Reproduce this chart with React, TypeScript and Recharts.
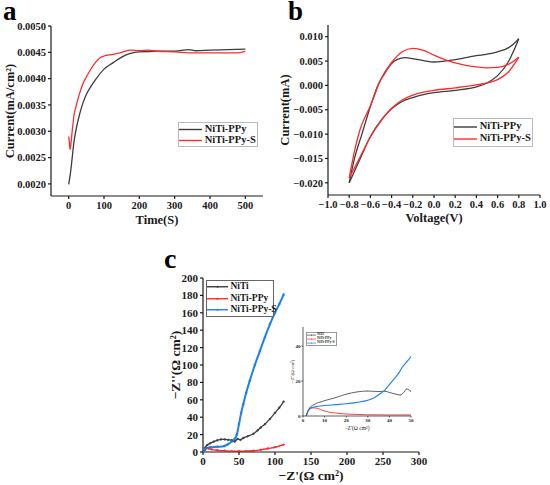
import { Legend, Line, LineChart, XAxis, YAxis } from "recharts";

const FONT = "'Liberation Serif', 'Times New Roman', serif";
const INK = "#1a1a1a";
const GREY = "#3c3c3c";
const RED = "#ff2b2b";
const BLUE = "#1f80ec";

// panel a: current vs time
const timePPy = [0, 5, 10, 15, 20, 30, 40, 50, 60, 75, 100, 125, 150, 175, 200, 250, 300, 340, 360, 400, 450, 500];
const currentPPy = [
  0.00199, 0.0022, 0.0025, 0.0028, 0.003, 0.0033, 0.00353, 0.0037, 0.00382, 0.00397, 0.00418,
  0.0043, 0.00441, 0.00448, 0.00451, 0.00452, 0.00452, 0.00455, 0.00453, 0.00454, 0.00455, 0.00456,
];
const timePPyS = [0, 2, 4, 7, 10, 15, 20, 30, 40, 50, 60, 75, 90, 100, 125, 150, 175, 200, 225, 250, 300, 350, 400, 450, 475, 500];
const currentPPyS = [
  0.0029, 0.0028, 0.00265, 0.0028, 0.003, 0.0033, 0.00345, 0.0037, 0.0039, 0.00403, 0.00415,
  0.0043, 0.0044, 0.00443, 0.00446, 0.0045, 0.00454, 0.00453, 0.00454, 0.00452, 0.00451, 0.00449,
  0.00449, 0.00449, 0.00449, 0.00452,
];
const timeTicks = [0, 100, 200, 300, 400, 500];
const currentTicks = [0.002, 0.0025, 0.003, 0.0035, 0.004, 0.0045, 0.005];

// panel b: cyclic voltammetry, forward (upper) and return (lower) branches
const vPPyUp = [-0.8, -0.75, -0.68, -0.61, -0.53, -0.45, -0.4, -0.35, -0.27, -0.2, -0.1, 0, 0.1, 0.2, 0.3, 0.4, 0.5, 0.6, 0.7, 0.75, 0.8];
const iPPyUp = [
  -0.02, -0.015, -0.01, -0.005, 0, 0.003, 0.0045, 0.0053, 0.0057, 0.0055, 0.0051, 0.0048, 0.005,
  0.0053, 0.0057, 0.0061, 0.0064, 0.0069, 0.0077, 0.0085, 0.0096,
];
const vPPyDown = [-0.8, -0.7, -0.6, -0.5, -0.4, -0.3, -0.2, -0.1, 0, 0.2, 0.4, 0.5, 0.6, 0.7, 0.75, 0.8];
const iPPyDown = [
  -0.02, -0.0152, -0.0105, -0.0072, -0.0048, -0.0033, -0.0025, -0.0019, -0.0015, -0.001, -0.0003,
  0.0005, 0.002, 0.0048, 0.007, 0.0096,
];
const vPPySUp = [-0.8, -0.75, -0.7, -0.6, -0.5, -0.4, -0.3, -0.2, -0.1, 0, 0.1, 0.2, 0.3, 0.4, 0.5, 0.6, 0.7, 0.8];
const iPPySUp = [
  -0.019, -0.0135, -0.0092, -0.0042, 0.0013, 0.0047, 0.0069, 0.0076, 0.0072, 0.0062, 0.0053,
  0.0046, 0.0041, 0.0038, 0.0036, 0.0037, 0.0043, 0.0058,
];
const vPPySDown = [-0.8, -0.7, -0.6, -0.5, -0.4, -0.3, -0.2, -0.1, 0, 0.2, 0.4, 0.5, 0.6, 0.7, 0.8];
const iPPySDown = [
  -0.019, -0.0148, -0.0106, -0.0073, -0.0047, -0.003, -0.002, -0.0014, -0.001, -0.0005, 0.0001,
  0.0005, 0.0012, 0.0027, 0.0058,
];
const voltTicks = [-1, -0.8, -0.6, -0.4, -0.2, 0, 0.2, 0.4, 0.6, 0.8, 1];
const cvTicks = [-0.02, -0.015, -0.01, -0.005, 0, 0.005, 0.01];

// panel c: Nyquist plot
const zReNiTi = [1, 3, 6, 10, 15, 20, 25, 30, 35, 40, 44, 48, 52, 56, 62, 70, 76, 80, 86, 93, 100, 106, 112];
const zImNiTi = [0, 5, 8, 10, 12, 13.5, 14.5, 14.5, 14, 13.5, 12, 15, 14, 16, 18, 21, 25, 28, 32, 38, 45, 51, 58];
const zRePPy = [1, 3, 5, 8, 12, 20, 30, 40, 50, 60, 70, 80, 90, 100, 112];
const zImPPy = [0, 3, 4.5, 4, 3, 2, 1.5, 1, 1, 1, 1.5, 2.5, 4, 5.5, 8.5];
const zRePPyS = [1, 3, 5, 10, 20, 30, 35, 40, 44, 47, 50, 53, 56, 60, 65, 72, 79, 86, 93, 100, 106, 112];
const zImPPyS = [0, 3, 4.5, 5.5, 6, 7, 9, 12, 15, 20, 32, 45, 55, 68, 82, 100, 116, 132, 147, 160, 170, 181];
const zReTicks = [0, 50, 100, 150, 200, 250, 300];
const zImTicks = [0, 20, 40, 60, 80, 100, 120, 140, 160, 180, 200];

// inset of panel c (low-frequency zoom)
const insetReNiTi = [1.5, 2, 3, 5, 8, 10, 15, 20, 25, 30, 35, 38, 40, 43, 45, 47, 48, 50];
const insetImNiTi = [0, 2, 4.5, 6.5, 8, 8.8, 10.5, 12.5, 13.8, 14.3, 14, 14.2, 13.5, 12.5, 12, 14, 15.5, 14];
const insetRePPy = [1.5, 2.5, 4, 6, 8, 10, 12, 15, 20, 25, 30, 40, 50];
const insetImPPy = [0, 3.3, 4.6, 4.6, 3.8, 2.9, 2.2, 1.7, 1.1, 0.9, 0.7, 0.6, 0.6];
const insetRePPyS = [1.5, 2.5, 4, 7, 10, 15, 20, 25, 30, 33, 36, 38, 40, 42, 44, 46, 48, 50];
const insetImPPyS = [0, 3, 4.8, 5.6, 6, 6.5, 7, 7.8, 9, 10.5, 13, 15, 18, 21, 24, 28, 31, 34];
const insetReTicks = [0, 10, 20, 30, 40, 50];
const insetImTicks = [0, 20, 40];

const zip = (xs: number[], ys: number[]) => xs.map((x, i) => ({ x, y: ys[i] }));
const withMinus = (s: string) => s.replace("-", "\u2212");

const axisLine = { stroke: INK, strokeWidth: 1.2 };
const tickStyle = (size: number) => ({ fontSize: size, fontFamily: FONT, fontWeight: 700, fill: INK });
const titleStyle = (size: number) => ({ fontSize: size, fontFamily: FONT, fontWeight: 700, fill: INK, textAnchor: "middle" as const });

type Entry = { value?: string; color?: string; type?: string };

function BoxLegend({
  payload,
  fontSize,
  sample,
  rowHeight,
  border,
  dot,
  strokeWidth,
}: {
  payload?: Entry[];
  fontSize: number;
  sample: number;
  rowHeight: number;
  border: string;
  dot?: number;
  strokeWidth: number;
}) {
  // the return branches of the CV loops share a colour with their forward branch: list each once
  const seen = new Set<string>();
  const rows = (payload ?? []).filter((e) => {
    if (e.type === "none" || seen.has(e.color ?? "")) return false;
    seen.add(e.color ?? "");
    return true;
  });
  return (
    <div
      style={{
        border: `0.8px solid ${border}`,
        background: "#fff",
        boxSizing: "border-box",
        width: "100%",
        height: "100%",
        display: "flex",
        flexDirection: "column",
        justifyContent: "center",
      }}
    >
      {rows.map((e) => (
        <div key={e.value} style={{ display: "flex", alignItems: "center", height: rowHeight }}>
          <svg width={sample} height={rowHeight} style={{ flex: "none" }}>
            <line x1={0} x2={sample} y1={rowHeight / 2} y2={rowHeight / 2} stroke={e.color} strokeWidth={strokeWidth} />
            {dot ? <circle cx={sample / 2} cy={rowHeight / 2} r={dot} fill={e.color} /> : null}
          </svg>
          <span
            style={{
              fontFamily: FONT,
              fontWeight: 700,
              fontSize,
              lineHeight: 1,
              color: INK,
              whiteSpace: "nowrap",
              marginLeft: fontSize * 0.25,
            }}
          >
            {e.value}
          </span>
        </div>
      ))}
    </div>
  );
}

function PanelA() {
  const xDom: [number, number] = [-50, 550];
  const yDom: [number, number] = [0.00177, 0.005];
  return (
    <LineChart width={275} height={235} margin={{ top: 26, right: 12, bottom: 0, left: 0 }}>
      <XAxis
        dataKey="x"
        type="number"
        domain={xDom}
        ticks={timeTicks}
        interval={0}
        allowDataOverflow
        height={39}
        tickSize={3}
        tickMargin={3}
        axisLine={axisLine}
        tickLine={axisLine}
        tick={tickStyle(10.5)}
        label={{ value: "Time(S)", position: "insideBottom", offset: 11, style: titleStyle(12.5) }}
      />
      <YAxis
        dataKey="y"
        type="number"
        domain={yDom}
        ticks={currentTicks}
        interval={0}
        allowDataOverflow
        width={51}
        tickSize={3}
        tickMargin={2}
        axisLine={axisLine}
        tickLine={axisLine}
        tick={tickStyle(10.5)}
        tickFormatter={(v: number) => v.toFixed(4)}
        label={{ value: "Current(mA/cm²)", angle: -90, position: "insideLeft", offset: 10, style: titleStyle(12.5) }}
      />
      <XAxis xAxisId="top" orientation="top" type="number" domain={xDom} height={0} tick={false} tickLine={false} axisLine={axisLine} />
      <YAxis yAxisId="right" orientation="right" type="number" domain={yDom} width={0} tick={false} tickLine={false} axisLine={axisLine} />
      <Legend
        layout="vertical"
        align="center"
        verticalAlign="middle"
        wrapperStyle={{ left: 178, top: 122, width: 80, height: 25 }}
        content={(p: any) => <BoxLegend payload={p.payload} fontSize={10.5} sample={23} rowHeight={11} border="#bbbbbb" strokeWidth={1.4} />}
      />
      <Line data={zip(timePPy, currentPPy)} dataKey="y" name="NiTi-PPy" type="monotone" stroke={GREY} strokeWidth={1.3} dot={false} isAnimationActive={false} />
      <Line data={zip(timePPyS, currentPPyS)} dataKey="y" name="NiTi-PPy-S" type="monotone" stroke={RED} strokeWidth={1.3} dot={false} isAnimationActive={false} />
    </LineChart>
  );
}

function PanelB() {
  const xDom: [number, number] = [-1, 1];
  const yDom: [number, number] = [-0.0225, 0.0124];
  return (
    <LineChart width={275} height={235} margin={{ top: 25, right: 10, bottom: 0, left: 0 }}>
      <XAxis
        dataKey="x"
        type="number"
        domain={xDom}
        ticks={voltTicks}
        interval={0}
        allowDataOverflow
        height={40}
        tickSize={3}
        tickMargin={3}
        axisLine={axisLine}
        tickLine={axisLine}
        tick={tickStyle(10.5)}
        tickFormatter={(v: number) => withMinus(v.toFixed(1))}
        label={{ value: "Voltage(V)", position: "insideBottom", offset: 13, style: titleStyle(12.5) }}
      />
      <YAxis
        dataKey="y"
        type="number"
        domain={yDom}
        ticks={cvTicks}
        interval={0}
        allowDataOverflow
        width={53}
        tickSize={3}
        tickMargin={2}
        axisLine={axisLine}
        tickLine={axisLine}
        tick={tickStyle(10.5)}
        tickFormatter={(v: number) => withMinus(v.toFixed(3))}
        label={{ value: "Current(mA)", angle: -90, position: "insideLeft", offset: 10, style: titleStyle(12.5) }}
      />
      <XAxis xAxisId="top" orientation="top" type="number" domain={xDom} height={0} tick={false} tickLine={false} axisLine={axisLine} />
      <YAxis yAxisId="right" orientation="right" type="number" domain={yDom} width={0} tick={false} tickLine={false} axisLine={axisLine} />
      <Legend
        layout="vertical"
        align="center"
        verticalAlign="middle"
        wrapperStyle={{ left: 178, top: 118, width: 80, height: 29 }}
        content={(p: any) => <BoxLegend payload={p.payload} fontSize={10.5} sample={23} rowHeight={12} border="#bbbbbb" strokeWidth={1.4} />}
      />
      <Line data={zip(vPPyUp, iPPyUp)} dataKey="y" name="NiTi-PPy" type="monotone" stroke={GREY} strokeWidth={1.3} dot={false} isAnimationActive={false} />
      <Line data={zip(vPPyDown, iPPyDown)} dataKey="y" name="NiTi-PPy return" legendType="none" type="monotone" stroke={GREY} strokeWidth={1.3} dot={false} isAnimationActive={false} />
      <Line data={zip(vPPySUp, iPPySUp)} dataKey="y" name="NiTi-PPy-S" type="monotone" stroke={RED} strokeWidth={1.3} dot={false} isAnimationActive={false} />
      <Line data={zip(vPPySDown, iPPySDown)} dataKey="y" name="NiTi-PPy-S return" legendType="none" type="monotone" stroke={RED} strokeWidth={1.3} dot={false} isAnimationActive={false} />
    </LineChart>
  );
}

function PanelC() {
  const xDom: [number, number] = [0, 300];
  const yDom: [number, number] = [0, 200];
  return (
    <LineChart width={290} height={245} margin={{ top: 38, right: 21, bottom: 0, left: 0 }}>
      <XAxis
        dataKey="x"
        type="number"
        domain={xDom}
        ticks={zReTicks}
        interval={0}
        allowDataOverflow
        height={33}
        tickSize={3}
        tickMargin={2}
        axisLine={axisLine}
        tickLine={axisLine}
        tick={tickStyle(11)}
        label={{ value: "\u2212Z'(\u03A9 cm²)", position: "insideBottom", offset: 5, style: titleStyle(13.5) }}
      />
      <YAxis
        dataKey="y"
        type="number"
        domain={yDom}
        ticks={zImTicks}
        interval={0}
        allowDataOverflow
        width={53}
        tickSize={3}
        tickMargin={2}
        axisLine={axisLine}
        tickLine={axisLine}
        tick={tickStyle(11)}
        label={{ value: "\u2212Z''(\u03A9 cm²)", angle: -90, position: "insideLeft", offset: 25, style: titleStyle(13.5) }}
      />
      <XAxis xAxisId="top" orientation="top" type="number" domain={xDom} height={0} tick={false} tickLine={false} axisLine={axisLine} />
      <YAxis yAxisId="right" orientation="right" type="number" domain={yDom} width={0} tick={false} tickLine={false} axisLine={axisLine} />
      <Legend
        layout="vertical"
        align="center"
        verticalAlign="middle"
        wrapperStyle={{ left: 56, top: 40, width: 68, height: 37 }}
        content={(p: any) => <BoxLegend payload={p.payload} fontSize={9.5} sample={21} rowHeight={11.5} border="#666666" dot={1.1} strokeWidth={1.4} />}
      />
      <Line data={zip(zReNiTi, zImNiTi)} dataKey="y" name="NiTi" type="monotone" stroke={GREY} strokeWidth={1.3} dot={{ r: 0.9, fill: GREY, stroke: GREY, strokeWidth: 0.5 }} isAnimationActive={false} />
      <Line data={zip(zRePPy, zImPPy)} dataKey="y" name="NiTi-PPy" type="monotone" stroke={RED} strokeWidth={1.4} dot={{ r: 0.9, fill: RED, stroke: RED, strokeWidth: 0.5 }} isAnimationActive={false} />
      <Line data={zip(zRePPyS, zImPPyS)} dataKey="y" name="NiTi-PPy-S" type="monotone" stroke={BLUE} strokeWidth={2} dot={{ r: 1, fill: BLUE, stroke: BLUE, strokeWidth: 0.5 }} isAnimationActive={false} />
    </LineChart>
  );
}

function Inset() {
  const xDom: [number, number] = [0, 50];
  const yDom: [number, number] = [0, 51];
  const thin = { stroke: INK, strokeWidth: 0.7 };
  return (
    <LineChart width={135} height={115} margin={{ top: 7, right: 9, bottom: 0, left: 0 }} style={{ background: "#fff" }}>
      <XAxis
        dataKey="x"
        type="number"
        domain={xDom}
        ticks={insetReTicks}
        interval={0}
        allowDataOverflow
        height={19}
        tickSize={1.5}
        tickMargin={1}
        axisLine={thin}
        tickLine={thin}
        tick={tickStyle(5)}
        label={{ value: "\u2212Z'(\u03A9 cm²)", position: "insideBottom", offset: 5, style: { ...titleStyle(5.5), fontWeight: 400 } }}
      />
      <YAxis
        dataKey="y"
        type="number"
        domain={yDom}
        ticks={insetImTicks}
        interval={0}
        allowDataOverflow
        width={18}
        tickSize={1.5}
        tickMargin={1}
        axisLine={thin}
        tickLine={thin}
        tick={tickStyle(5)}
        label={{ value: "\u2212Z''(\u03A9 cm²)", angle: -90, position: "insideLeft", offset: 7, style: { ...titleStyle(5), fontWeight: 400 } }}
      />
      <XAxis xAxisId="top" orientation="top" type="number" domain={xDom} height={0} tick={false} tickLine={false} axisLine={thin} />
      <YAxis yAxisId="right" orientation="right" type="number" domain={yDom} width={0} tick={false} tickLine={false} axisLine={thin} />
      <Legend
        layout="vertical"
        align="center"
        verticalAlign="middle"
        wrapperStyle={{ left: 21, top: 12, width: 31, height: 14 }}
        content={(p: any) => <BoxLegend payload={p.payload} fontSize={3.6} sample={9} rowHeight={4.2} border="#999999" dot={0.5} strokeWidth={0.7} />}
      />
      <Line data={zip(insetReNiTi, insetImNiTi)} dataKey="y" name="NiTi" type="monotone" stroke={GREY} strokeWidth={0.8} dot={{ r: 0.4, fill: GREY, stroke: "none" }} isAnimationActive={false} />
      <Line data={zip(insetRePPy, insetImPPy)} dataKey="y" name="NiTi-PPy" type="monotone" stroke={RED} strokeWidth={0.9} dot={false} isAnimationActive={false} />
      <Line data={zip(insetRePPyS, insetImPPyS)} dataKey="y" name="NiTi-PPy-S" type="monotone" stroke={BLUE} strokeWidth={1.1} dot={false} isAnimationActive={false} />
    </LineChart>
  );
}

export default function App() {
  const letter = { fontFamily: FONT, fontWeight: 700, fontSize: 27, fill: "#000" };
  return (
    <div style={{ position: "absolute", left: 0, top: 0, width: 550, height: 485, background: "#fff", overflow: "hidden" }}>
      <div style={{ position: "absolute", left: 0, top: 0 }}>
        <PanelA />
      </div>
      <div style={{ position: "absolute", left: 275, top: 0 }}>
        <PanelB />
      </div>
      <div style={{ position: "absolute", left: 150, top: 240 }}>
        <PanelC />
      </div>
      <div style={{ position: "absolute", left: 285, top: 320 }}>
        <Inset />
      </div>
      <svg width={550} height={485} style={{ position: "absolute", left: 0, top: 0, pointerEvents: "none" }}>
        <text x={3} y={20} style={letter}>a</text>
        <text x={288} y={20} style={letter}>b</text>
        <text x={164} y={268} style={{ ...letter, fontSize: 28 }}>c</text>
      </svg>
    </div>
  );
}
